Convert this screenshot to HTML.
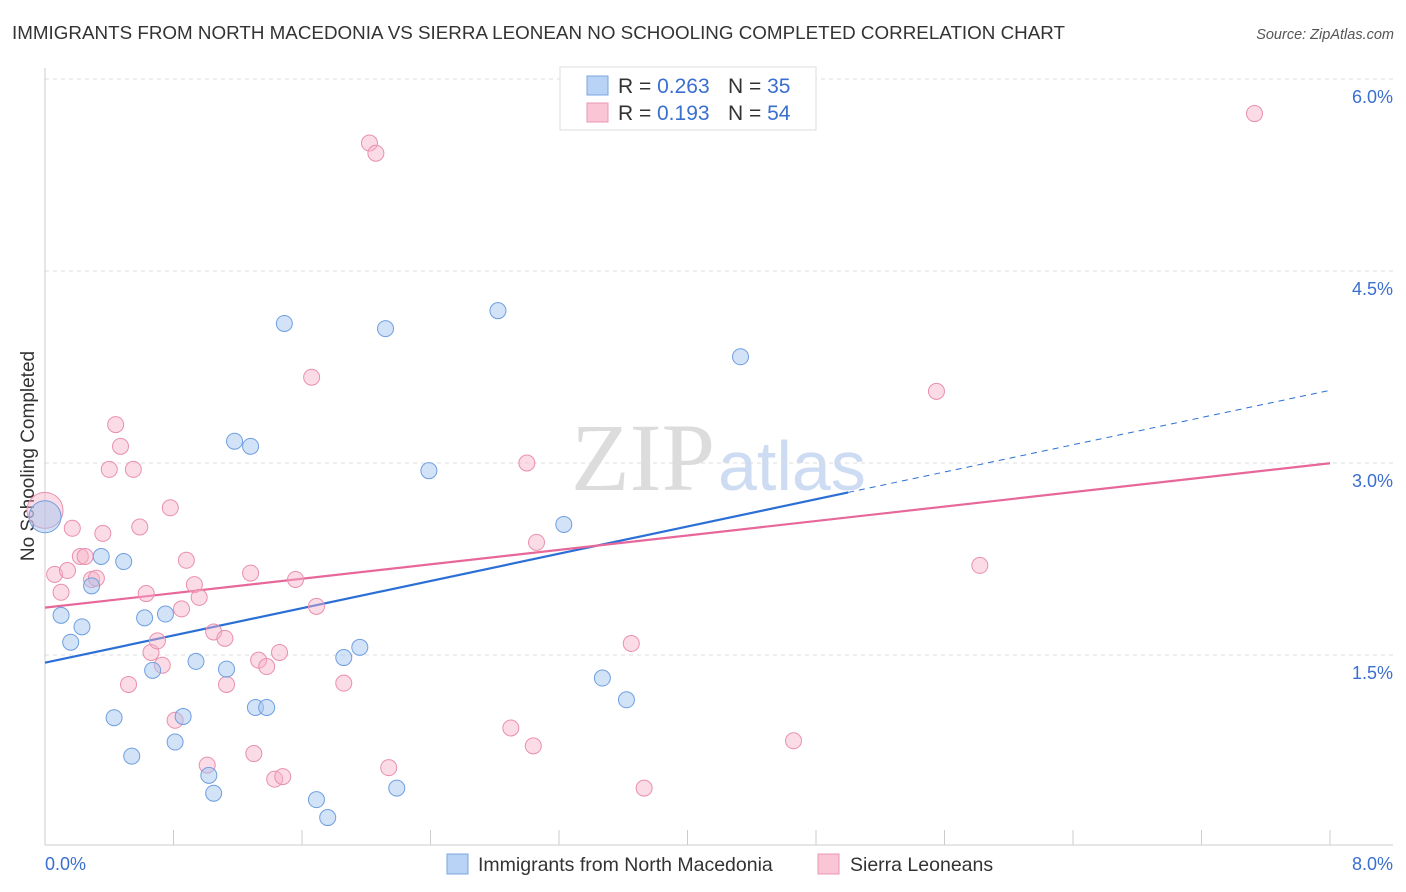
<!DOCTYPE html>
<html><head><meta charset="utf-8"><style>
body{margin:0;background:#fff;font-family:"Liberation Sans",sans-serif;}
svg{display:block}
</style></head><body>
<svg id="chart" width="1406" height="892">
<text x="12" y="39" font-size="18.8" fill="#333" textLength="1053">IMMIGRANTS FROM NORTH MACEDONIA VS SIERRA LEONEAN NO SCHOOLING COMPLETED CORRELATION CHART</text>
<text x="1394" y="39" font-size="14.5" fill="#555" font-style="italic" text-anchor="end">Source: ZipAtlas.com</text>
<text x="715" y="490" font-size="96" font-family="Liberation Serif,serif" fill="#dcdcdc" text-anchor="end">ZIP</text>
<text x="718" y="490" font-size="70" fill="#cddcf2">atlas</text>
<text transform="translate(34,456) rotate(-90)" font-size="19" fill="#333" text-anchor="middle">No Schooling Completed</text>
<g id="grid"></g><g id="axes"></g><g id="lines"></g><g id="pts"></g>
<g>
<rect x="560" y="67" width="256" height="63" fill="#fff" stroke="#ddd"/>
<rect x="587" y="76" width="21" height="19" fill="#b8d3f5" stroke="#7aa6e0"/>
<rect x="587" y="103" width="21" height="19" fill="#fac5d5" stroke="#eb97b2"/>
<text x="618" y="93" font-size="21" fill="#333">R = <tspan fill="#3a6fd0">0.263</tspan><tspan x="728">N = </tspan><tspan fill="#3a6fd0">35</tspan></text>
<text x="618" y="120" font-size="21" fill="#333">R = <tspan fill="#3a6fd0" x="657">0.193</tspan><tspan x="728">N = </tspan><tspan fill="#3a6fd0">54</tspan></text>
</g>
<g>
<rect x="447" y="854" width="21" height="20" fill="#b8d3f5" stroke="#7aa6e0"/>
<text x="478" y="871" font-size="19.5" fill="#333">Immigrants from North Macedonia</text>
<rect x="818" y="854" width="21" height="20" fill="#fac5d5" stroke="#eb97b2"/>
<text x="850" y="871" font-size="19.5" fill="#333">Sierra Leoneans</text>
</g>
</svg>
<script>
const yTicks=[1.5,3.0,4.5,6.0];
const xLabels=["0.0%","8.0%"];
const blueX=[0.00,0.10,0.16,0.23,0.29,0.35,0.49,0.43,0.54,0.62,0.67,0.75,0.81,0.86,0.94,1.02,1.05,1.13,1.18,1.28,1.31,1.38,1.49,1.69,1.76,1.86,1.96,2.12,2.19,2.39,2.82,3.23,3.47,3.62,4.33];
const blueY=[2.58,1.81,1.60,1.72,2.04,2.27,2.23,1.01,0.71,1.79,1.38,1.82,0.82,1.02,1.45,0.56,0.42,1.39,3.17,3.13,1.09,1.09,4.09,0.37,0.23,1.48,1.56,4.05,0.46,2.94,4.19,2.52,1.32,1.15,3.83];
const pinkX=[0.00,0.06,0.10,0.14,0.17,0.22,0.25,0.29,0.32,0.36,0.40,0.44,0.47,0.52,0.55,0.59,0.63,0.66,0.70,0.73,0.78,0.81,0.85,0.88,0.93,0.96,1.01,1.05,1.12,1.13,1.28,1.30,1.33,1.38,1.43,1.46,1.48,1.56,1.66,1.69,1.86,2.02,2.06,2.14,2.90,3.00,3.04,3.06,3.65,3.73,4.66,5.55,5.82,7.53];
const pinkY=[2.63,2.13,1.99,2.16,2.49,2.27,2.27,2.09,2.10,2.45,2.95,3.30,3.13,1.27,2.95,2.50,1.98,1.52,1.61,1.42,2.65,0.99,1.86,2.24,2.05,1.95,0.64,1.68,1.63,1.27,2.14,0.73,1.46,1.41,0.53,1.52,0.55,2.09,3.67,1.88,1.28,5.50,5.42,0.62,0.93,3.00,0.79,2.38,1.59,0.46,0.83,3.56,2.20,5.73];
const blueFit=[1.44,0.266];
const pinkFit=[1.87,0.141];
const NS="http://www.w3.org/2000/svg";
const X=v=>45+v/8*1285, Y=v=>847-v*128;
function mk(t,a,p){const e=document.createElementNS(NS,t);for(const k in a)e.setAttribute(k,a[k]);document.getElementById(p).appendChild(e);return e;}
yTicks.forEach(t=>{
 const l=mk('line',{x1:45,x2:1393,y1:Y(t),y2:Y(t),stroke:'#ddd','stroke-dasharray':'4,4'},'grid');
 
 
 const tx=mk('text',{x:1393,y:Y(t)+24,'font-size':18,fill:'#3a6fd0','text-anchor':'end'},'grid');
 tx.textContent=t.toFixed(1)+'%';
 
 
});
mk('line',{x1:45,x2:45,y1:68,y2:845,stroke:'#ccc'},'axes');
mk('line',{x1:45,x2:1393,y1:845,y2:845,stroke:'#ccc'},'axes');
for(let i=0;i<=10;i++){const t=mk('line',{x1:X(i*0.8),x2:X(i*0.8),y1:830,y2:845,stroke:'#ccc'},'axes');
 
 }
[[0,45,'start'],[1,1393,'end']].forEach(([i,x,a])=>{const t=mk('text',{x:x,y:870,'font-size':18,fill:'#3a6fd0','text-anchor':a},'axes');t.textContent=xLabels[i];
 
 });
const f=(p,x)=>p[0]+p[1]*x;
let l=mk('line',{x1:X(0),y1:Y(f(blueFit,0)),x2:X(5),y2:Y(f(blueFit,5)),stroke:'#2b6fd6','stroke-width':2.2},'lines');


l=mk('line',{x1:X(5),y1:Y(f(blueFit,5)),x2:X(8),y2:Y(f(blueFit,8)),stroke:'#2b6fd6','stroke-width':1,'stroke-dasharray':'6,5'},'lines');


l=mk('line',{x1:X(0),y1:Y(f(pinkFit,0)),x2:X(8),y2:Y(f(pinkFit,8)),stroke:'#e8679a','stroke-width':2.2},'lines');


pinkX.forEach((x,i)=>{const c=mk('circle',{cx:X(x),cy:Y(pinkY[i]),r:i==0?18:8,fill:'rgba(247,178,200,0.45)',stroke:'#e98fae','stroke-width':1},'pts');
 
 });
blueX.forEach((x,i)=>{const c=mk('circle',{cx:X(x),cy:Y(blueY[i]),r:i==0?16:8,fill:'rgba(165,197,240,0.5)',stroke:'#6f9fe0','stroke-width':1},'pts');
 
 });
</script>
</body></html>
